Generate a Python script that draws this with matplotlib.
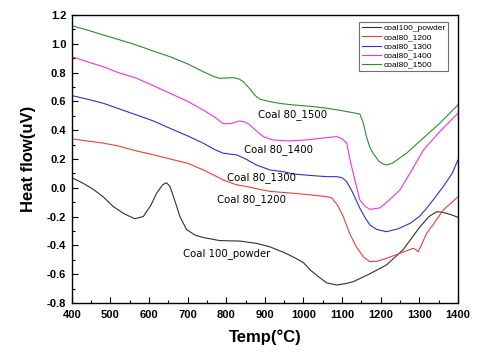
import matplotlib.pyplot as plt
from matplotlib.ticker import MultipleLocator

# (temperature in C, heat flow in uV)
t_black = [400, 430, 455, 480, 507, 535, 563, 585, 605, 619, 635, 645, 654, 668, 680, 697, 720, 740,
           783, 835, 878, 913, 950, 973, 1000, 1017, 1040, 1060, 1086, 1110, 1129, 1170, 1215, 1258,
           1280, 1302, 1325, 1345, 1360, 1380, 1400]
v_black = [0.07, 0.03, -0.01, -0.06, -0.13, -0.18, -0.215, -0.20, -0.12, -0.04, 0.02, 0.035, 0.01, -0.10,
           -0.20, -0.29, -0.33, -0.345, -0.367, -0.37, -0.386, -0.41, -0.45, -0.48, -0.52, -0.57, -0.62,
           -0.66, -0.675, -0.665, -0.652, -0.60, -0.536, -0.43, -0.35, -0.27, -0.20, -0.166, -0.17,
           -0.185, -0.205]

t_red = [400, 440, 481, 520, 568, 610, 654, 700, 740, 770, 792, 827, 860, 887, 913, 973, 1020, 1060,
         1073, 1088, 1103, 1120, 1137, 1155, 1172, 1190, 1215, 1250, 1284, 1291, 1297, 1305, 1319, 1340,
         1362, 1385, 1400]
v_red = [0.34, 0.325, 0.31, 0.29, 0.255, 0.23, 0.20, 0.17, 0.124, 0.085, 0.054, 0.02, 0.005, -0.012,
         -0.025, -0.038, -0.05, -0.062, -0.07, -0.12, -0.20, -0.32, -0.41, -0.48, -0.513, -0.51, -0.49,
         -0.455, -0.42, -0.43, -0.445, -0.40, -0.316, -0.24, -0.154, -0.10, -0.062]

t_blue = [400, 440, 481, 520, 568, 610, 654, 700, 740, 770, 792, 827, 850, 878, 913, 950, 973, 1020,
          1060, 1086, 1100, 1112, 1125, 1146, 1160, 1172, 1190, 1215, 1245, 1276, 1300, 1319, 1340, 1362,
          1385, 1400]
v_blue = [0.64, 0.615, 0.587, 0.55, 0.505, 0.465, 0.413, 0.36, 0.31, 0.265, 0.24, 0.228, 0.20, 0.158,
          0.124, 0.11, 0.096, 0.085, 0.077, 0.077, 0.07, 0.042, -0.02, -0.142, -0.21, -0.258, -0.29,
          -0.305, -0.285, -0.247, -0.20, -0.142, -0.07, 0.008, 0.10, 0.193]

t_mag = [400, 440, 481, 520, 568, 610, 654, 700, 740, 770, 792, 810, 835, 850, 861, 880, 896, 921, 960,
         1008, 1050, 1086, 1100, 1112, 1120, 1133, 1146, 1160, 1172, 1198, 1220, 1250, 1280, 1310, 1353,
         1400]
v_mag = [0.91, 0.875, 0.84, 0.80, 0.76, 0.71, 0.656, 0.60, 0.54, 0.49, 0.445, 0.445, 0.464, 0.455,
         0.436, 0.39, 0.355, 0.332, 0.325, 0.332, 0.345, 0.355, 0.34, 0.31, 0.20, 0.054, -0.085, -0.13,
         -0.15, -0.14, -0.09, -0.015, 0.12, 0.26, 0.39, 0.517]

t_green = [400, 440, 481, 520, 568, 610, 654, 700, 740, 770, 783, 800, 818, 833, 844, 860, 875, 887,
           913, 940, 973, 1020, 1060, 1100, 1130, 1146, 1155, 1163, 1172, 1180, 1195, 1206, 1215, 1230,
           1267, 1300, 1353, 1400]
v_green = [1.125, 1.095, 1.061, 1.03, 0.99, 0.95, 0.91, 0.86, 0.806, 0.77, 0.76, 0.762, 0.765, 0.755,
           0.737, 0.69, 0.64, 0.615, 0.598, 0.585, 0.575, 0.565, 0.552, 0.535, 0.52, 0.512, 0.45, 0.355,
           0.28, 0.24, 0.185, 0.165, 0.158, 0.17, 0.24, 0.32, 0.448, 0.575]

names = ["coal100_powder", "coal80_1200", "coal80_1300", "coal80_1400", "coal80_1500"]
colors = ["#303030", "#e8403a", "#3030d0", "#f030f0", "#289028"]

# label text and its spot (T, V)
ann_text = ["Coal 80_1500", "Coal 80_1400", "Coal 80_1300", "Coal 80_1200", "Coal 100_powder"]
ann_pos = [(972, 0.51), (934, 0.263), (892, 0.068), (866, -0.085), (801, -0.46)]

fig = plt.figure(figsize=(4.79, 3.55), dpi=100)
ax = fig.add_axes([0.150, 0.1465, 0.806, 0.8115])

data = [(t_black, v_black), (t_red, v_red), (t_blue, v_blue), (t_mag, v_mag), (t_green, v_green)]
for (t, v), n, c in zip(data, names, colors):
    ax.plot(t, v, color=c, lw=0.8, label=n)

for s, (x, y) in zip(ann_text, ann_pos):
    ax.text(x, y, s, fontsize=7.3, ha="center", va="center", family="DejaVu Sans")

ax.set_xlim(400, 1400)
ax.set_ylim(-0.8, 1.2)
ax.xaxis.set_major_locator(MultipleLocator(100))
ax.xaxis.set_minor_locator(MultipleLocator(50))
ax.yaxis.set_major_locator(MultipleLocator(0.2))
ax.yaxis.set_minor_locator(MultipleLocator(0.1))
ax.tick_params(which="both", direction="in", top=False, right=False)
ax.tick_params(which="major", length=4, width=0.8)
ax.tick_params(which="minor", length=2, width=0.8)
ax.tick_params(axis="x", pad=5)
ax.tick_params(axis="y", pad=4)
ax.set_yticks(ax.get_yticks(), [f"{y:.1f}" for y in ax.get_yticks()])
ax.set_ylim(-0.8, 1.2)
for lab in ax.get_xticklabels() + ax.get_yticklabels():
    lab.set_family("Liberation Sans")
    lab.set_fontweight("bold")
    lab.set_fontsize(8)
for sp in ax.spines.values():
    sp.set_linewidth(1.0)

ax.set_xlabel("Temp(°C)", family="Liberation Sans", fontweight="bold", fontsize=12, labelpad=7)
ax.set_ylabel("Heat flow(uV)", family="Liberation Sans", fontweight="bold", fontsize=12, labelpad=8)

leg = ax.legend(loc="upper right", handlelength=2.3, handletextpad=0.3, labelspacing=0.15,
                borderpad=0.3, fancybox=False, framealpha=1, edgecolor="#707070",
                bbox_to_anchor=(0.985, 0.99), prop={"family": "Liberation Sans", "size": 6})
leg.get_frame().set_linewidth(0.8)

fig.savefig("out.png", dpi=100)
